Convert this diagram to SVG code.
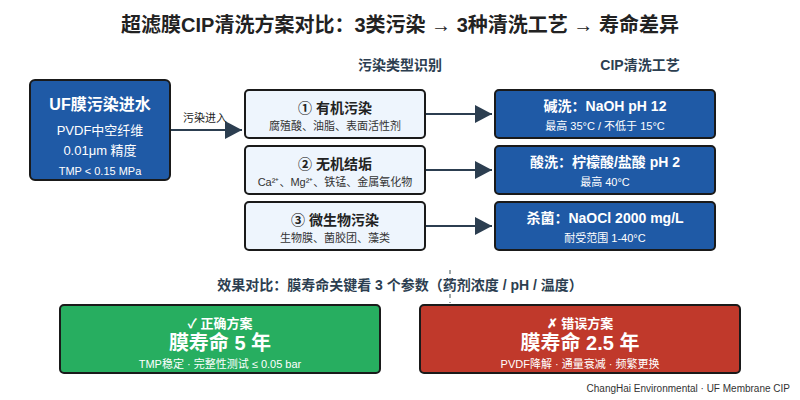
<svg xmlns="http://www.w3.org/2000/svg" width="800" height="400" viewBox="0 0 800 400">
<style>
text{font-family:"Liberation Sans","Noto Sans CJK SC",sans-serif;text-anchor:middle}
.t{font-weight:bold;fill:#222}
.h{font-weight:bold;font-size:14px;fill:#2c3e50}
.blue{fill:#1f5aa6;stroke:#1a1a1a;stroke-width:2}
.light{fill:#eef5fd;stroke:#1a1a1a;stroke-width:2}
.w{fill:#fff}
.c{stroke:#2c3e50;stroke-width:2;fill:none}
</style>
<defs>
<marker id="b" markerWidth="18" markerHeight="18" refX="17" refY="9" orient="auto" markerUnits="userSpaceOnUse" viewBox="0 0 18 18"><path d="M0,0L17,9L0,18z" fill="#2c3e50"/></marker></defs>
<rect width="800" height="400" fill="#fff"/>
<text x="400" y="32" class="t" font-size="20">超滤膜CIP清洗方案对比：3类污染 → 3种清洗工艺 → 寿命差异</text>
<text x="400" y="70" class="h">污染类型识别</text>
<text x="640" y="70" class="h">CIP清洗工艺</text>
<g id="connectors">
<line x1="170" y1="130" x2="242" y2="130" class="c" marker-end="url(#b)"/>
<text x="205" y="122" font-size="11" fill="#222">污染进入</text>
<line x1="425" y1="114" x2="492" y2="114" class="c" marker-end="url(#b)"/>
<line x1="425" y1="170" x2="492" y2="170" class="c" marker-end="url(#b)"/>
<line x1="425" y1="226" x2="492" y2="226" class="c" marker-end="url(#b)"/>
<line x1="450" y1="270" x2="450" y2="303" stroke="#7f8c8d" stroke-width="1.5" stroke-dasharray="4,4"/>
</g>
<g id="input"><rect x="30" y="80" width="140" height="100" rx="5" class="blue"/>
<text x="100" y="110" class="w" font-weight="bold" font-size="16">UF膜污染进水</text>
<text x="100" y="135" class="w" font-size="13">PVDF中空纤维</text>
<text x="100" y="155" class="w" font-size="13">0.01μm 精度</text>
<text x="100" y="175" class="w" font-size="11">TMP &lt; 0.15 MPa</text></g>
<g id="organic"><rect x="245" y="90" width="180" height="48" rx="4" class="light"/>
<text x="335" y="113" class="t" font-size="14">① 有机污染</text>
<text x="335" y="130" font-size="11" fill="#333">腐殖酸、油脂、表面活性剂</text></g>
<g id="inorganic"><rect x="245" y="146" width="180" height="48" rx="4" class="light"/>
<text x="335" y="169" class="t" font-size="14">② 无机结垢</text>
<text x="335" y="186" font-size="11" fill="#333">Ca²⁺、Mg²⁺、铁锰、金属氧化物</text></g>
<g id="bio"><rect x="245" y="202" width="180" height="48" rx="4" class="light"/>
<text x="335" y="225" class="t" font-size="14">③ 微生物污染</text>
<text x="335" y="242" font-size="11" fill="#333">生物膜、菌胶团、藻类</text></g>
<g id="alkali"><rect x="495" y="90" width="220" height="48" rx="4" class="blue"/>
<text x="605" y="111" class="w" font-weight="bold" font-size="14">碱洗：NaOH pH 12</text>
<text x="605" y="130" class="w" font-size="11">最高 35°C / 不低于 15°C</text></g>
<g id="acid"><rect x="495" y="146" width="220" height="48" rx="4" class="blue"/>
<text x="605" y="167" class="w" font-weight="bold" font-size="14">酸洗：柠檬酸/盐酸 pH 2</text>
<text x="605" y="186" class="w" font-size="11">最高 40°C</text></g>
<g id="sterilize"><rect x="495" y="202" width="220" height="48" rx="4" class="blue"/>
<text x="605" y="223" class="w" font-weight="bold" font-size="14">杀菌：NaOCl 2000 mg/L</text>
<text x="605" y="242" class="w" font-size="11">耐受范围 1-40°C</text></g>
<text x="400" y="290" class="h">效果对比：膜寿命关键看 3 个参数（药剂浓度 / pH / 温度）</text>
<g id="good"><rect x="60" y="305" width="320" height="68" rx="4" fill="#27ae60" stroke="#1a1a1a" stroke-width="2"/>
<text x="220" y="328" class="w" font-weight="bold" font-size="13">✓ 正确方案</text>
<text x="220" y="350" class="w" font-weight="bold" font-size="20">膜寿命 5 年</text>
<text x="220" y="368" class="w" font-size="11">TMP稳定 · 完整性测试 ≤ 0.05 bar</text></g>
<g id="bad"><rect x="420" y="305" width="320" height="68" rx="4" fill="#c0392b" stroke="#1a1a1a" stroke-width="2"/>
<text x="580" y="328" class="w" font-weight="bold" font-size="13">✗ 错误方案</text>
<text x="580" y="350" class="w" font-weight="bold" font-size="20">膜寿命 2.5 年</text>
<text x="580" y="368" class="w" font-size="11">PVDF降解 · 通量衰减 · 频繁更换</text></g>
<text x="790" y="392" font-size="10" fill="#333" style="text-anchor:end">ChangHai Environmental · UF Membrane CIP</text>
</svg>
